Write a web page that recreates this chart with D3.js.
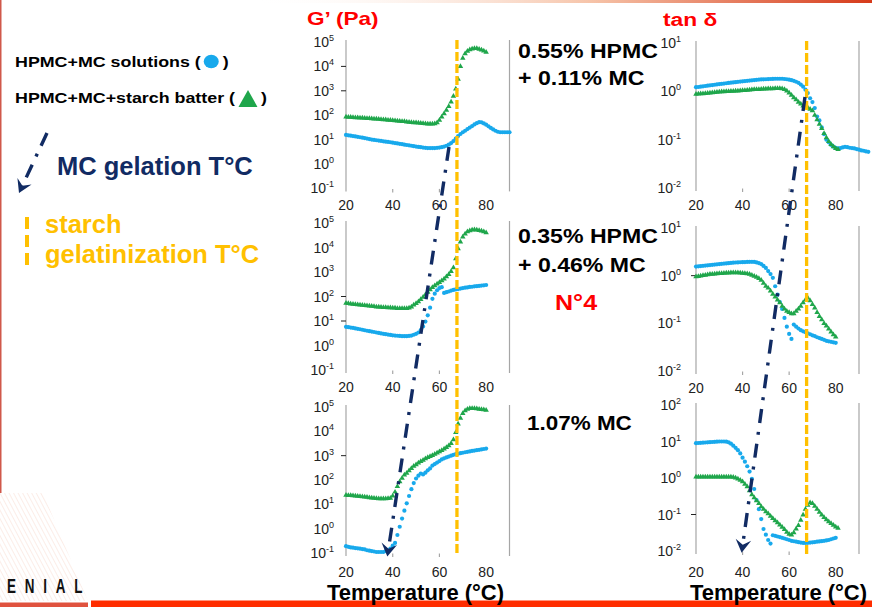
<!DOCTYPE html>
<html>
<head>
<meta charset="utf-8">
<script src="https://cdn.jsdelivr.net/npm/d3@7"></script>
<style>
  body { margin: 0; background: #fff; }
  svg { display: block; font-family: Arial, "Liberation Sans", sans-serif; }
</style>
</head>
<body>
<svg id="chart" width="872" height="607"></svg>
<script>
// ramp temperatures, one reading per degree
const temps = d3.range(20, 95);

// G' (Pa): solutions (blue dots) and starch batters (green triangles)
const gSol1 = [15.5,15,14.5,14,13.5,13,12.5,12,11.5,11, 10.5,10,9.7,9.4,9.1,8.8,8.5,8.2,8,7.8,
  7.5,7.2,7,6.7,6.5,6.2,6,5.8,5.6,5.4, 5.2,5,4.9,4.7,4.6,4.5,4.5,4.5,4.5,4.6,
  4.7,4.9,5.2,5.6,6.2,7.2,8.7,11,14,17, 20,23,27,31,36,42,47,52,51,46, 41,35,30,26,23,21,20,20,20,20,20];
const gBat1 = [85,84,83,82,80,79,78,77,75,74, 73,72,71,70,68,67,66,65,63,62,
  61,60,58,57,56,55,53,52,51,50, 49,48,47,46,45,44,44,44,45,50,
  62,85,115,160,230,350,600,1200,3000,10000, 22000,33000,42000,48000,52000,55000,54000,51000,47000,43000,38000];
const gSol2 = [5.8,5.6,5.4,5.2,5,4.8,4.6,4.4,4.2,4, 3.85,3.7,3.55,3.4,3.25,3.1,3,2.9,2.8,2.7,
  2.6,2.55,2.5,2.45,2.4,2.4,2.4,2.45,2.55,2.75, 3,3.4,4.3,6,9.5,17,35,80,130,180,
  220,240,140,150,160,175,185,195,200,210, 220,230,235,245,250,260,265,270,280,285,295];
const gBat2 = [54,52,50,49,47,46,45,44,43,42, 41,40,39,38,38,37,36,36,35,35,
  34,34,33,33,33,33,33,34,38,45, 52,62,76,95,120,150,190,235,280,330,
  380,440,520,640,800,1050,1500,3500,9000,17000, 27000,36000,44000,49000,52000,53000,52000,50000,47000,44000,40000];
const gSol3 = [0.19,0.18,0.17,0.165,0.16,0.155,0.15,0.145,0.14,0.13, 0.125,0.12,0.115,0.11,0.11,0.11,0.11,0.12,0.13,0.15,
  0.2,0.26,0.55,1.2,2.6,5.5,11,22,42,75, 115,150,185,170,200,250,300,390,450,520,
  600,700,780,850,920,1000,1080,1150,1200,1260, 1320,1380,1440,1500,1560,1620,1680,1740,1800,1880,1950];
const gBat3 = [24,23.5,23,22.5,22,21.5,21,20.5,20,19.5, 19,18.5,18,17.5,17,17,17,17,17.5,18,
  22,32,55,85,120,160,190,240,300,370, 430,500,580,660,750,840,930,1030,1150,1300,
  1450,1650,1900,2200,2600,3200,4500,9000,20000,35000, 55000,70000,82000,88000,88000,87000,85000,82000,80000,77000,74000];

// tan delta
const tanSol1 = [1.22,1.23,1.25,1.27,1.29,1.31,1.33,1.35,1.37,1.39, 1.41,1.43,1.45,1.47,1.49,1.51,1.53,1.55,1.57,1.59,
  1.61,1.63,1.65,1.67,1.69,1.71,1.73,1.75,1.76,1.77, 1.78,1.79,1.8,1.81,1.82,1.82,1.82,1.82,1.8,1.78,
  1.74,1.7,1.65,1.58,1.5,1.38,1.25,1.08,0.92,0.72, 0.6,0.45,0.3,0.25,0.18,0.13,0.1,0.088,0.078,0.072,
  0.068,0.066,0.067,0.069,0.071,0.07,0.068,0.067,0.066,0.064, 0.062,0.06,0.059,0.057,0.056];
const tanBat1 = [0.87,0.88,0.89,0.9,0.91,0.92,0.93,0.94,0.95,0.96, 0.97,0.98,0.99,1,1,1.01,1.01,1.02,1.02,1.03,
  1.04,1.05,1.06,1.07,1.08,1.09,1.1,1.1,1.11,1.12, 1.12,1.13,1.14,1.14,1.15,1.15,1.15,1.14,1.1,1.02,
  0.93,0.83,0.74,0.67,0.6,0.55,0.5,0.48,0.46,0.43, 0.4,0.32,0.26,0.21,0.17,0.135,0.11,0.092,0.08,0.072, 0.066,0.063];
const tanSol2 = [1.55,1.57,1.59,1.61,1.63,1.65,1.67,1.69,1.71,1.73, 1.75,1.77,1.79,1.81,1.83,1.85,1.87,1.89,1.9,1.91,
  1.92,1.93,1.94,1.95,1.95,1.94,1.9,1.84,1.75,1.6, 1.45,1.25,1.08,0.9,0.6,0.4,0.28,0.2,0.13,0.085,
  0.06,0.047,0.094,0.085,0.078,0.072,0.068,0.065,0.062,0.059, 0.056,0.054,0.051,0.049,0.047,0.045,0.043,0.042,0.041,0.04,0.039];
const tanBat2 = [0.95,0.97,0.99,1.01,1.03,1.05,1.07,1.08,1.09,1.1, 1.11,1.12,1.13,1.14,1.14,1.15,1.15,1.15,1.15,1.14,
  1.13,1.12,1.1,1.07,1.03,0.98,0.93,0.88,0.8,0.7, 0.6,0.55,0.48,0.41,0.36,0.31,0.27,0.23,0.2,0.18,
  0.17,0.16,0.16,0.18,0.2,0.23,0.27,0.31,0.34,0.3, 0.25,0.21,0.17,0.14,0.12,0.1,0.088,0.076,0.066,0.058,0.052];
const tanSol3 = [9,9.1,9.2,9.3,9.4,9.5,9.6,9.7,9.8,9.9, 10,10,10,9.9,9.5,8.7,7.7,6.7,5.8,4.7,
  3.6,2.8,2.1,1.5,0.95,0.5,0.25,0.14,0.075,0.04, 0.028,0.02,0.016,0.027,0.026,0.025,0.024,0.023,0.022,0.021,
  0.02,0.019,0.0185,0.018,0.0175,0.017,0.0166,0.0166,0.0168,0.017, 0.0173,0.0176,0.018,0.0183,0.0186,0.019,0.0195,0.02,0.021,0.022,0.023];
const tanBat3 = [1.07,1.07,1.07,1.07,1.07,1.07,1.07,1.07,1.07,1.07, 1.07,1.07,1.07,1.07,1.07,1.07,1.05,1,0.95,0.87,
  0.79,0.68,0.58,0.45,0.35,0.29,0.24,0.2,0.165,0.14, 0.12,0.105,0.09,0.078,0.068,0.06,0.052,0.045,0.039,0.033,
  0.029,0.0275,0.032,0.04,0.05,0.07,0.098,0.14,0.18,0.21, 0.2,0.17,0.14,0.115,0.097,0.083,0.072,0.064,0.057,0.051,0.046,0.042];

const gTickExp = [5, 4, 3, 2, 1, 0, -1];
const tanTickExp = [1, 0, -1, -2];
const tanTickExp3 = [2, 1, 0, -1, -2];
const xTicks = [20, 40, 60, 80];

const starchGelT = 67.5;
// MC gelation arrows: start / end on a panel, in (T, value)
const gelArrowG = { from: { panel: 0, t: 64.1, v: 5 }, to: { panel: 2, t: 37.7, v: 0.071 } };
const gelArrowTan = { from: { panel: 3, t: 66.8, v: 0.76 }, to: { panel: 5, t: 39.6, v: 0.009 } };

const blue = "#18a9ec", green = "#1fa64b", gold = "#ffc000", navy = "#112b63", red = "#ff0000";
const gridGrey = "#a6a6a6";

const svg = d3.select("#chart");

const panels = [
  { x0: 346, x1: 509.5, yTop: 42, yBot: 188.4, dom: [0.1, 1e5], exps: gTickExp, sol: gSol1, bat: gBat1, labelY: 210, dark: [1e4, 1e3], gap: 12 },
  { x0: 346, x1: 509.5, yTop: 223, yBot: 370, dom: [0.1, 1e5], exps: gTickExp, sol: gSol2, bat: gBat2, labelY: 392, dark: [100, 10], gap: 12 },
  { x0: 346, x1: 509.5, yTop: 407, yBot: 553, dom: [0.1, 1e5], exps: gTickExp, sol: gSol3, bat: gBat3, labelY: 577, dark: [1000], gap: 12 },
  { x0: 696, x1: 859, yTop: 43, yBot: 188, dom: [0.01, 10], exps: tanTickExp, sol: tanSol1, bat: tanBat1, labelY: 210, dark: [], gap: 15 },
  { x0: 696, x1: 859, yTop: 228, yBot: 371, dom: [0.01, 10], exps: tanTickExp, sol: tanSol2, bat: tanBat2, labelY: 393, dark: [1], gap: 15 },
  { x0: 696, x1: 859, yTop: 405, yBot: 551, dom: [0.01, 100], exps: tanTickExp3, sol: tanSol3, bat: tanBat3, labelY: 577, dark: [0.1], gap: 15 }
];

// slide decoration
const defs = svg.append("defs");
const grad = defs.append("linearGradient").attr("id", "topbar");
grad.append("stop").attr("offset", "0%").attr("stop-color", "#fff").attr("stop-opacity", 0);
grad.append("stop").attr("offset", "55%").attr("stop-color", "#f6c3a8");
grad.append("stop").attr("offset", "100%").attr("stop-color", "#d63a1a");
svg.append("rect").attr("x", 250).attr("y", 0).attr("width", 622).attr("height", 3).attr("fill", "url(#topbar)");
svg.append("rect").attr("x", 0).attr("y", 0).attr("width", 1.5).attr("height", 493).attr("fill", "#d0584a");

const hatch = defs.append("pattern").attr("id", "hatch").attr("width", 4).attr("height", 4)
  .attr("patternUnits", "userSpaceOnUse").attr("patternTransform", "rotate(-28)");
hatch.append("line").attr("x1", 0).attr("y1", 0).attr("x2", 0).attr("y2", 4)
  .attr("stroke", "#f5cdbd").attr("stroke-width", 1.2);
svg.append("polygon").attr("points", "0,493 43,493 88,601 0,601").attr("fill", "url(#hatch)").attr("opacity", 0.6);
svg.append("text").attr("transform", "translate(7,593) scale(0.64,1)")
  .attr("font-size", 21).attr("font-weight", "bold").attr("fill", "#111")
  .attr("textLength", 118).attr("lengthAdjust", "spacing").text("ENIAL");
svg.append("rect").attr("x", 0).attr("y", 602.5).attr("width", 88).attr("height", 4.5).attr("fill", "#e0523e");
svg.append("rect").attr("x", 91).attr("y", 600.5).attr("width", 781).attr("height", 6.5).attr("fill", "#ff2d00");

function label(x, y, str, size, color, sx = 1) {
  return svg.append("text")
    .attr("transform", `translate(${x},${y}) scale(${sx},1)`)
    .attr("font-size", size).attr("font-weight", "bold").attr("fill", color)
    .text(str);
}

function arrowHead(g, x, y, angle, size, color) {
  g.append("path")
    .attr("d", `M0,0 L${-size},${-size * 0.6} L${-size * 0.62},0 L${-size},${size * 0.6} Z`)
    .attr("transform", `translate(${x},${y}) rotate(${angle})`)
    .attr("fill", color);
}

function dashDot(g, x1, y1, x2, y2, w) {
  const ang = Math.atan2(y2 - y1, x2 - x1);
  const back = 6;
  g.append("line")
    .attr("x1", x1).attr("y1", y1)
    .attr("x2", x2 - back * Math.cos(ang)).attr("y2", y2 - back * Math.sin(ang))
    .attr("stroke", navy).attr("stroke-width", w).attr("stroke-dasharray", "14,9,3,9");
  arrowHead(g, x2, y2, ang * 180 / Math.PI, 13, navy);
}

// panels
panels.forEach(p => {
  p.x = d3.scaleLinear().domain([20, 90]).range([p.x0, p.x1]);
  p.y = d3.scaleLog().domain(p.dom).range([p.yBot, p.yTop]);
  const g = svg.append("g");

  [20, 90].forEach(t => {
    g.append("line").attr("x1", p.x(t)).attr("x2", p.x(t))
      .attr("y1", p.yTop - 2).attr("y2", p.yBot + 3)
      .attr("stroke", gridGrey).attr("stroke-width", 1.2);
  });
  [40, 60].forEach(t => {
    g.append("line").attr("x1", p.x(t)).attr("x2", p.x(t))
      .attr("y1", p.yBot + 0.5).attr("y2", p.yBot + 4)
      .attr("stroke", gridGrey).attr("stroke-width", 1.2);
  });
  p.dark.forEach(v => {
    g.append("line").attr("x1", p.x0 - 5).attr("x2", p.x0)
      .attr("y1", p.y(v)).attr("y2", p.y(v))
      .attr("stroke", "#222").attr("stroke-width", 1);
  });

  p.exps.forEach(e => {
    const t = g.append("text").attr("x", p.x0 - p.gap).attr("y", p.y(Math.pow(10, e)) + 5)
      .attr("text-anchor", "end").attr("font-size", 14).attr("fill", "#222");
    t.append("tspan").text("10");
    t.append("tspan").attr("dy", -6).attr("font-size", 9).text(String(e));
  });
  xTicks.forEach(t => {
    g.append("text").attr("x", p.x(t)).attr("y", p.labelY)
      .attr("text-anchor", "middle").attr("font-size", 14).attr("fill", "#222").text(t);
  });

  const pts = arr => arr.map((v, i) => ({ t: temps[i], v }));
  g.selectAll("circle.sol").data(pts(p.sol)).join("circle").attr("class", "sol")
    .attr("cx", d => p.x(d.t)).attr("cy", d => p.y(d.v)).attr("r", 2.1).attr("fill", blue);
  const tri = d3.symbol(d3.symbolTriangle, 13);
  g.selectAll("path.bat").data(pts(p.bat)).join("path").attr("class", "bat")
    .attr("transform", d => `translate(${p.x(d.t)},${p.y(d.v)})`)
    .attr("d", tri).attr("fill", green);
});

// starch gelatinization temperature, across each column
[[0, 2], [3, 5]].forEach(([a, b]) => {
  const x = panels[a].x(starchGelT);
  svg.append("line").attr("x1", x).attr("x2", x)
    .attr("y1", panels[a].yTop - 2).attr("y2", panels[b].yBot + 3)
    .attr("stroke", gold).attr("stroke-width", 3.3).attr("stroke-dasharray", "9,3");
});

// MC gelation arrows
[gelArrowG, gelArrowTan].forEach(a => {
  const pa = panels[a.from.panel], pb = panels[a.to.panel];
  dashDot(svg, pa.x(a.from.t), pa.y(a.from.v), pb.x(a.to.t), pb.y(a.to.v), 3.4);
});

// headers and sample names
label(307, 25, "G\u2019 (Pa)", 19, red, 1.19);
label(663, 26, "tan \u03b4", 19, red, 1.2);
label(518, 58, "0.55% HPMC", 21, "#000", 1.1);
label(518, 85, "+ 0.11% MC", 21, "#000", 1.1);
label(518, 243, "0.35% HPMC", 21, "#000", 1.1);
label(518, 272, "+ 0.46% MC", 21, "#000", 1.1);
label(555, 310, "N\u00b04", 22, red, 1.14);
label(527, 430, "1.07% MC", 21, "#000", 1.07);
label(327, 600, "Temperature (\u00b0C)", 22, "#000", 1);
label(690, 600, "Temperature (\u00b0C)", 22, "#000", 1);

// legend
const l1 = label(15, 67, "HPMC+MC solutions (", 15, "#000", 1.19);
const e1 = 15 + l1.node().getComputedTextLength() * 1.19;
svg.append("ellipse").attr("cx", e1 + 10.5).attr("cy", 61.5).attr("rx", 7.5).attr("ry", 6.8).attr("fill", blue);
label(e1 + 22, 67, ")", 15, "#000", 1.19);

const l2 = label(15, 103, "HPMC+MC+starch batter (", 15, "#000", 1.19);
const e2 = 15 + l2.node().getComputedTextLength() * 1.19;
const tc = e2 + 13;
svg.append("path").attr("d", `M${tc},90 L${tc - 9.5},107 L${tc + 9.5},107 Z`).attr("fill", green);
label(tc + 13, 103, ")", 15, "#000", 1.19);

dashDot(svg, 47, 133, 19, 193, 3.4);
label(57, 175, "MC gelation T\u00b0C", 25, navy, 1.02);

svg.append("line").attr("x1", 27).attr("x2", 27).attr("y1", 217).attr("y2", 266)
  .attr("stroke", gold).attr("stroke-width", 4).attr("stroke-dasharray", "12,6");
label(45, 233, "starch", 25, gold, 1.02);
label(45, 263, "gelatinization T\u00b0C", 25, gold, 1.02);
</script>
</body>
</html>
